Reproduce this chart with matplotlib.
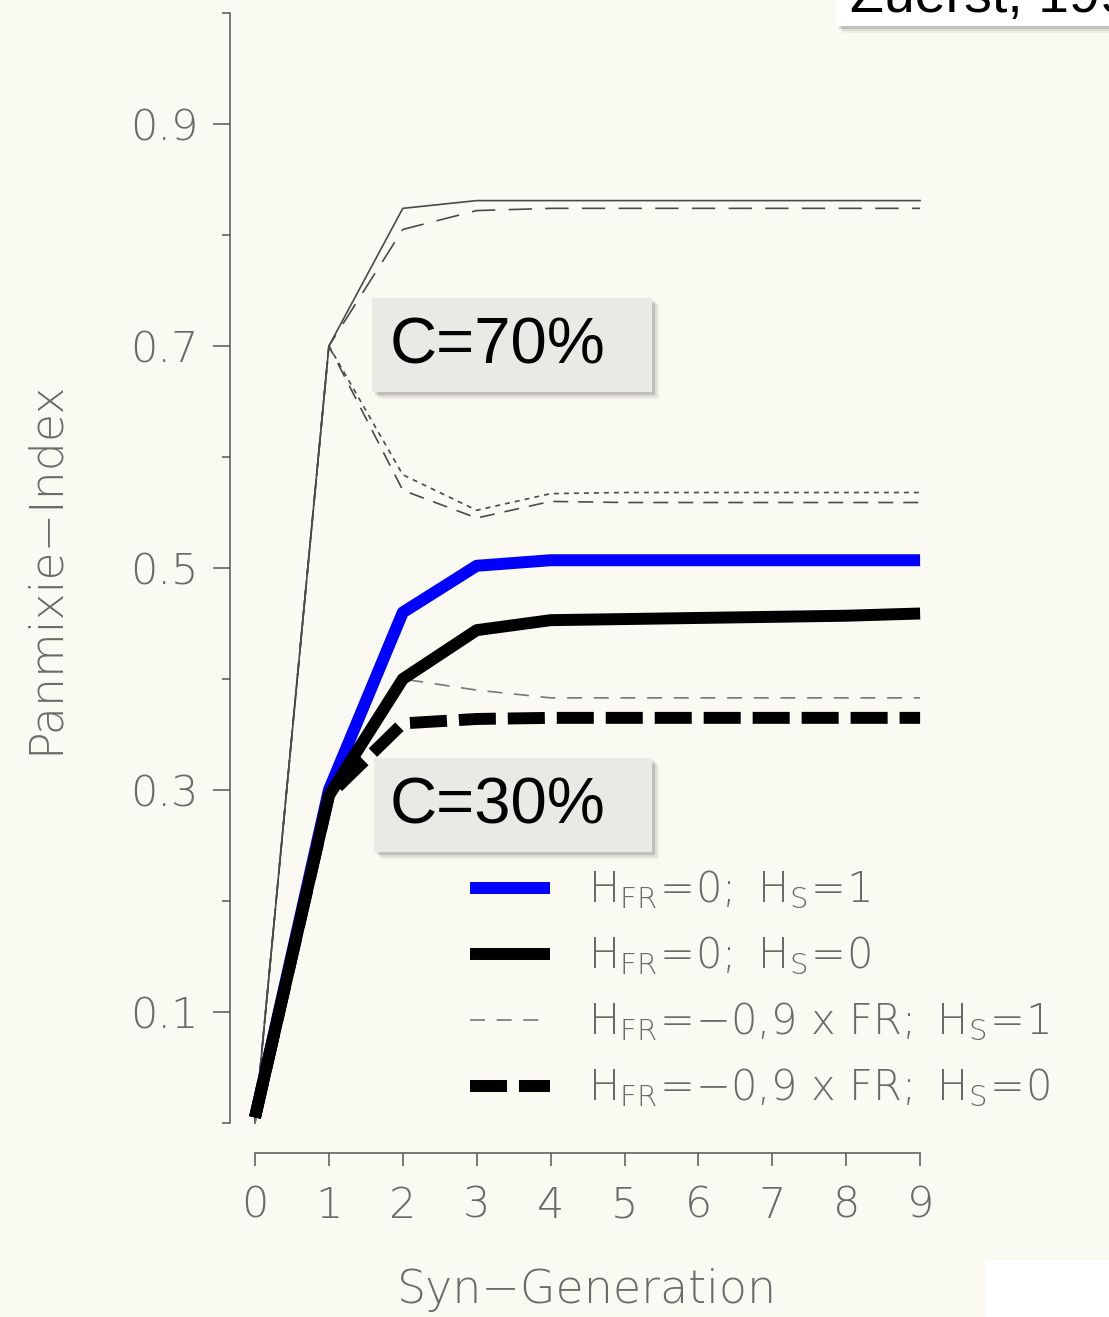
import matplotlib
matplotlib.use("Agg")
import matplotlib.pyplot as plt
from matplotlib.patches import Rectangle

W, H = 1109, 1317

# Syn-generations on the x axis
gen = [0, 1, 2, 3, 4, 5, 6, 7, 8, 9]

# C = 70 % runs (thin curves of the plotter figure)
c70_solid = [0.0, 0.70, 0.824, 0.831, 0.831, 0.831, 0.831, 0.831, 0.831, 0.831]
c70_longdash = [0.0, 0.70, 0.805, 0.822, 0.824, 0.824, 0.824, 0.824, 0.824, 0.824]
c70_dotted = [0.0, 0.70, 0.584, 0.552, 0.567, 0.568, 0.568, 0.568, 0.568, 0.568]
c70_dashed = [0.0, 0.70, 0.570, 0.545, 0.560, 0.559, 0.559, 0.559, 0.559, 0.559]

# C = 30 % runs
c30_hfr0_hs1 = [0.005, 0.30, 0.46, 0.502, 0.507, 0.507, 0.507, 0.507, 0.507, 0.507]
c30_hfr0_hs0 = [0.005, 0.295, 0.40, 0.444, 0.453, 0.454, 0.455, 0.456, 0.457, 0.459]
c30_hfr09_hs1 = [0.0, 0.30, 0.40, 0.390, 0.383, 0.383, 0.383, 0.383, 0.383, 0.383]
c30_hfr09_hs0 = [0.005, 0.295, 0.36, 0.364, 0.365, 0.365, 0.365, 0.365, 0.365, 0.365]

legend_labels = [
    r"$H_{FR}\!=\!0;\ H_{S}\!=\!1$",
    r"$H_{FR}\!=\!0;\ H_{S}\!=\!0$",
    r"$H_{FR}\!=\!{-}0{,}9\ x\ FR;\ H_{S}\!=\!1$",
    r"$H_{FR}\!=\!{-}0{,}9\ x\ FR;\ H_{S}\!=\!0$",
]
y_ticks = [0.1, 0.3, 0.5, 0.7, 0.9]
y_minor = [0.0, 0.2, 0.4, 0.6, 0.8, 1.0]

plt.rcParams["mathtext.default"] = "regular"
paper = "#fbfaf2"
ink = "#6a6a6a"
thin = "#4a4a4a"
plot_font = dict(family=["DejaVu Sans"], weight=200)


def fx(px):
    return px / W


def fy(py):
    return 1 - py / H


fig = plt.figure(figsize=(W / 100, H / 100), dpi=100)
fig.patch.set_facecolor(paper)

# x = 0 sits at pixel 255, 73.9 px per generation; y = 0 at pixel 1123, 1110 px per unit
ax = fig.add_axes([fx(230), fy(1153), fx(W - 230), (1153 - 13) / H])
ax.set_facecolor("none")
ax.set_xlim(-25 / 73.9, (W - 255) / 73.9)
ax.set_ylim(-30 / 1110, 1.0)

for s in ("top", "right"):
    ax.spines[s].set_visible(False)
ax.spines["left"].set_bounds(0, 1.0)
ax.spines["bottom"].set_bounds(0, 9)
for s in ("left", "bottom"):
    ax.spines[s].set_color("#555555")
    ax.spines[s].set_linewidth(1.1)

ax.set_yticks(y_ticks)
ax.set_yticklabels([f"{v:.1f}" for v in y_ticks])
ax.set_yticks(y_minor, minor=True)
ax.set_xticks(gen)
ax.tick_params(axis="y", which="major", length=12, width=1.1, color="#555555",
               pad=11, labelsize=31, labelcolor=ink)
ax.tick_params(axis="y", which="minor", length=6, width=1.1, color="#555555")
ax.tick_params(axis="x", which="major", length=9, width=1.1, color="#555555",
               pad=14, labelsize=31, labelcolor=ink)
for lab in ax.get_xticklabels() + ax.get_yticklabels():
    lab.set_fontweight(200)

# thin curves from the original plot
ax.plot(gen, c70_solid, color=thin, lw=1.2, zorder=2)
ax.plot(gen, c70_longdash, color=thin, lw=1.2, ls=(0, (14, 8)), zorder=2)
ax.plot(gen, c70_dotted, color=thin, lw=1.2, ls=(0, (3, 3)), zorder=2)
ax.plot(gen, c70_dashed, color=thin, lw=1.2, ls=(0, (9, 6)), zorder=2)
thin_dash, = ax.plot(gen, c30_hfr09_hs1, color="#777777", lw=1.2, ls=(0, (9, 7)), zorder=2)

# highlighted C = 30 % curves
blue, = ax.plot(gen, c30_hfr0_hs1, color="#0000ff", lw=8.6, solid_capstyle="butt",
                solid_joinstyle="round", zorder=3)
black, = ax.plot(gen, c30_hfr0_hs0, color="black", lw=8.6, solid_capstyle="butt",
                 solid_joinstyle="round", zorder=4)
black_dash, = ax.plot(gen, c30_hfr09_hs0, color="black", lw=8.6, ls=(0, (3.1, 1.0)),
                      dash_capstyle="butt", zorder=5)

leg = ax.legend([blue, black, thin_dash, black_dash], legend_labels,
                loc="upper left",
                bbox_to_anchor=((470 - 230) / (W - 230), (1153 - 869) / (1153 - 13)),
                frameon=False, handlelength=1.92, handletextpad=0.91, labelspacing=0.57,
                borderpad=0, borderaxespad=0,
                prop=dict(family="DejaVu Sans", weight=200, size=30))
for t in leg.get_texts():
    t.set_color(ink)

# axis titles
fig.text(fx(45), fy(567), "Panmixie\u2212Index", rotation=90, ha="center", va="center",
         fontsize=33, color=ink, **plot_font)
fig.text(fx(587), fy(1290), "Syn\u2212Generation", ha="center", va="center",
         fontsize=33, color=ink, **plot_font)


def shadow_box(x0, y0, x1, y1, face):
    for k, a in ((7, 0.06), (5, 0.10), (3, 0.16)):
        fig.add_artist(Rectangle((fx(x0 + k), fy(y1 + k)), fx(x1 - x0), (y1 - y0) / H,
                                 transform=fig.transFigure, facecolor="#303030",
                                 edgecolor="none", alpha=a, zorder=6))
    fig.add_artist(Rectangle((fx(x0), fy(y1)), fx(x1 - x0), (y1 - y0) / H,
                             transform=fig.transFigure, facecolor=face,
                             edgecolor="none", zorder=7))


shadow_box(372, 298, 652, 392, "#e9e9e5")
fig.text(fx(390), fy(346), "C=70%", fontsize=47, family="Liberation Sans",
         ha="left", va="center", color="black", zorder=8)
shadow_box(374, 758, 652, 852, "#e9e9e5")
fig.text(fx(390), fy(806), "C=30%", fontsize=47, family="Liberation Sans",
         ha="left", va="center", color="black", zorder=8)

# citation box cut off at the top edge
shadow_box(836, -20, 1130, 26, "white")
fig.text(fx(850), fy(12), "Zuerst, 199", fontsize=40, family="Liberation Sans",
         ha="left", va="baseline", color="black", zorder=8)

fig.add_artist(Rectangle((fx(985), 0), fx(W - 985), (1317 - 1260) / H,
                         transform=fig.transFigure, facecolor="white",
                         edgecolor="none", zorder=1))

fig.savefig("out.png", dpi=100, facecolor=fig.get_facecolor())
